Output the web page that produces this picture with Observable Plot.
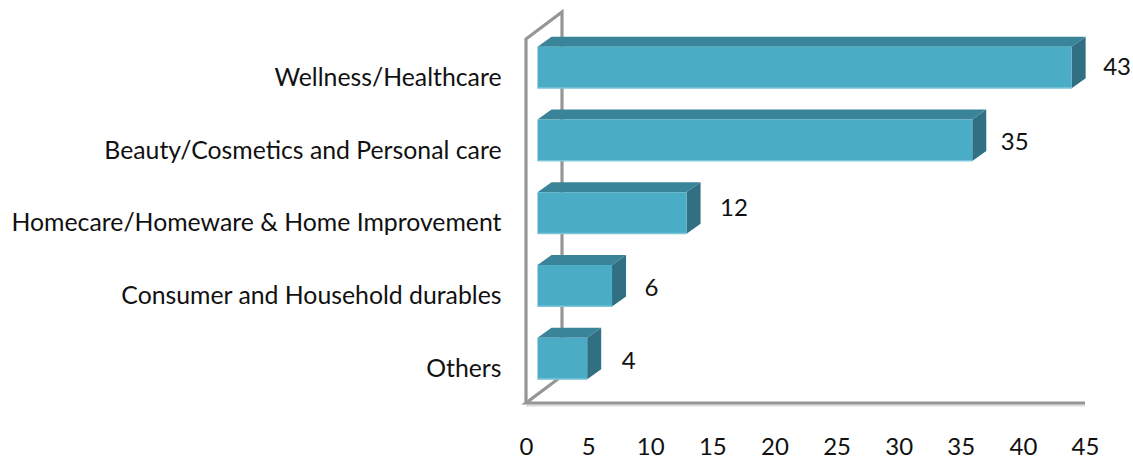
<!DOCTYPE html>
<html>
<head>
<meta charset="utf-8">
<style>html,body{margin:0;padding:0;background:#fff}svg{display:block}</style>
<script src="https://cdn.jsdelivr.net/npm/d3@7"></script>
<script src="https://cdn.jsdelivr.net/npm/@observablehq/plot@0.6"></script>
</head>
<body>
<div id="chart"></div>
<script>
const categories = ["Wellness/Healthcare","Beauty/Cosmetics and Personal care","Homecare/Homeware & Home Improvement","Consumer and Household durables","Others"];
const values = [43,35,12,6,4];
const xTicks = [0,5,10,15,20,25,30,35,40,45];

const rows = categories.map((c,i)=>({c,v:values[i]}));
const NS = "http://www.w3.org/2000/svg";
const FRONT="#4BACC6", TOP="#3A8499", SIDE="#316F82", EDGE="#7CC6DA", WALL="#969696";
const depthBar=[14,10], depthWall=[36,27], barShift=11.5;
const labelNudge=[[31,-1],[28,2],[33,-5],[32,2],[34,2.5]];

function poly(parent,pts,fill){
  const p=document.createElementNS(NS,"polygon");
  p.setAttribute("points",pts.map(d=>d.join(",")).join(" "));
  p.setAttribute("fill",fill);
  parent.insertBefore(p,parent.firstChild);
}
function wall(index,scales,channels,dim){
  const x0=scales.x(0), x1=scales.x(45), top=dim.marginTop, bot=dim.height-dim.marginBottom;
  const [dx,dy]=depthWall;
  const g=document.createElementNS(NS,"g");
  g.setAttribute("fill","none");
  const line=(d,c,w)=>{const p=document.createElementNS(NS,"path");p.setAttribute("d",d);p.setAttribute("stroke",c);p.setAttribute("stroke-width",w);g.appendChild(p);};
  line(`M${x0},${bot+2.5}H${x1}`,"#dcdcdc",2);
  line(`M${x0},${bot}V${top}L${x0+dx},${top-dy}V${bot-dy}L${x0},${bot}H${x1}`,WALL,3.2);
  return g;
}
function box3d(index,scales,channels,dim,ctx,next){
  const g=next(index,scales,channels,dim,ctx);
  const [dx,dy]=depthBar;
  const rects=[...g.querySelectorAll("rect")];
  for(const r of rects){
    const x=+r.getAttribute("x"),y=+r.getAttribute("y"),w=+r.getAttribute("width"),h=+r.getAttribute("height");
    const root=r.parentNode;
    poly(root,[[x,y],[x+dx,y-dy],[x+w+dx,y-dy],[x+w,y]],TOP);
    poly(root,[[x+w,y],[x+w+dx,y-dy],[x+w+dx,y+h-dy],[x+w,y+h]],SIDE);
    const e=document.createElementNS(NS,"rect");
    e.setAttribute("x",x);e.setAttribute("y",y+h-1);e.setAttribute("width",w);e.setAttribute("height",1.5);e.setAttribute("fill",EDGE);
    root.appendChild(e);
  }
  return g;
}

const plot=Plot.plot({
  width:1133,height:457,
  marginLeft:526,marginRight:48,marginTop:39,marginBottom:54,
  style:{fontFamily:"Lato, Carlito, sans-serif",fontSize:"24px",background:"#fff",color:"#111"},
  x:{domain:[0,45],ticks:xTicks,label:null},
  y:{domain:categories,range:[31.1,394.9],paddingInner:0.43,paddingOuter:0.215,round:false,label:null},
  marks:[
    wall,
    Plot.barX(rows,{x:"v",y:"c",fill:FRONT,dx:barShift,render:box3d}),
    ...rows.map((r,i)=>Plot.text([r],{x:"v",y:"c",text:d=>String(d.v),textAnchor:"start",fill:"#111",fontSize:24,dx:barShift+labelNudge[i][0],dy:labelNudge[i][1]})),
    Plot.axisX({ticks:xTicks,anchor:"bottom",tickSize:0,tickPadding:34,label:null,fontSize:24,fill:"#111"}),
    Plot.axisY({anchor:"left",tickSize:0,tickPadding:25,dy:10,label:null,fontSize:24.8,fill:"#111",tickFormat:d=>d,textOverflow:null,lineWidth:Infinity})
  ]
});
document.getElementById("chart").appendChild(plot);
</script>
</body>
</html>
